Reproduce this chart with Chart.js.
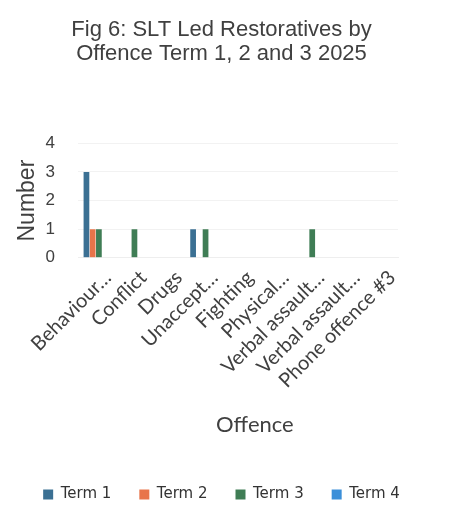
<!DOCTYPE html>
<html lang="en">
<head>
    <meta charset="UTF-8">
    <title>SLT Led Restoratives by Offence</title>
    <script src="https://cdn.jsdelivr.net/npm/chart.js"></script>
    <style>
      html, body { margin: 0; padding: 0; background: #fff; }
      #wrap { width: 461px; height: 517px; }
    </style>
</head>
<body>
<div id="wrap"><canvas id="offenceChart" width="461" height="517"></canvas></div>

<script>
  // offence categories (truncated the same way the axis shows them)
  const offences = ['Behaviour…', 'Conflict', 'Drugs', 'Unaccept…', 'Fighting',
                    'Physical…', 'Verbal assault…', 'Verbal assault…', 'Phone offence #3'];

  // restoratives per term
  const term1 = [3, 0, 0, 1, 0, 0, 0, 0, 0];
  const term2 = [1, 0, 0, 0, 0, 0, 0, 0, 0];
  const term3 = [1, 1, 0, 1, 0, 0, 1, 0, 0];
  const term4 = [0, 0, 0, 0, 0, 0, 0, 0, 0];

  const yTicks = [0, 1, 2, 3, 4];

  const termNames = ['Term 1', 'Term 2', 'Term 3', 'Term 4'];
  const termColors = ['#3b7093', '#e8744a', '#3f7d55', '#3b8fd9'];

  const ctx = document.getElementById('offenceChart').getContext('2d');
  new Chart(ctx, {
    type: 'bar',
    data: {
      labels: offences,
      datasets: [term1, term2, term3, term4].map((vals, i) => ({
        label: termNames[i],
        data: vals,
        backgroundColor: termColors[i],
        borderWidth: 0,
        categoryPercentage: 0.7,
        barPercentage: 0.92
      }))
    },
    options: {
      responsive: false,
      animation: false,
      layout: { padding: { left: 12, right: 30, top: 0, bottom: 5 } },
      scales: {
        x: {
          grid: { display: false },
          border: { color: '#eeeeee' },
          ticks: {
            color: '#404040',
            font: { family: 'Lato', size: 20 },
            minRotation: 45,
            maxRotation: 45,
            autoSkip: false,
            labelOffset: 12,
            padding: 0
          },
          title: {
            display: true,
            // leading spaces nudge the centred title to the right
            text: '\u00a0\u00a0\u00a0\u00a0\u00a0\u00a0Offence',
            color: '#404040',
            font: { family: 'Lato', size: 22 },
            padding: { top: 19, bottom: 21 }
          },
          // long slanted labels may hang past the plot edge, don't let them push it in
          afterFit: axis => { axis.paddingLeft = 0; axis.paddingRight = 0; }
        },
        y: {
          min: 0,
          max: 4,
          afterBuildTicks: axis => { axis.ticks = yTicks.map(v => ({ value: v })); },
          grid: { color: '#f2f2f2', drawTicks: false },
          border: { display: false },
          ticks: {
            color: '#404040',
            font: { family: 'Liberation Sans', size: 17 },
            autoSkip: false,
            padding: 23
          },
          title: {
            display: true,
            text: 'Number',
            color: '#404040',
            font: { family: 'Liberation Sans', size: 23 },
            padding: { top: 2, bottom: 3 }
          },
          afterFit: axis => { axis.width = 66; }
        },
        // empty strip on the right so the plot stops short of the edge
        spacer: {
          type: 'linear',
          position: 'right',
          grid: { display: false },
          border: { display: false },
          ticks: { display: false },
          afterFit: axis => { axis.width = 33; }
        }
      },
      plugins: {
        title: {
          display: true,
          text: ['Fig 6: SLT Led Restoratives by', 'Offence Term 1, 2 and 3 2025'],
          color: '#404040',
          font: { family: 'Liberation Sans', size: 22, weight: 'normal', lineHeight: 1.1 },
          padding: { top: 18, bottom: 77 }
        },
        legend: {
          position: 'bottom',
          labels: {
            color: '#333333',
            font: { family: 'DejaVu Sans', size: 15 },
            boxWidth: 10,
            boxHeight: 10,
            padding: 28
          }
        },
        tooltip: { enabled: false }
      }
    }
  });
</script>
</body>
</html>
